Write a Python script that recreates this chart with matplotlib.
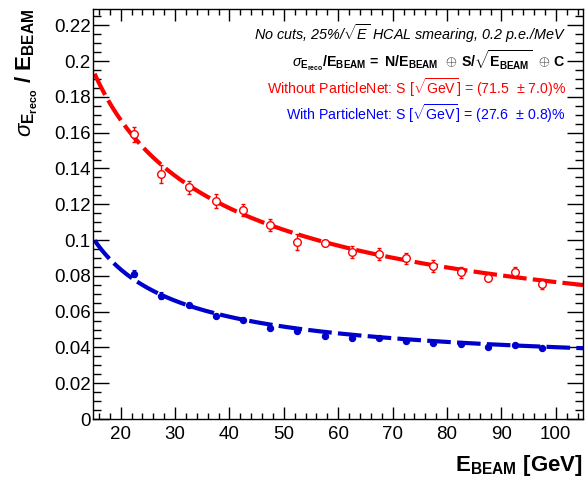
import numpy as np
import matplotlib
matplotlib.use("Agg")
import matplotlib.pyplot as plt

plt.rcParams['font.family'] = ['Liberation Sans', 'DejaVu Sans']
plt.rcParams['mathtext.fontset'] = 'custom'
plt.rcParams['mathtext.rm'] = 'Liberation Sans'
plt.rcParams['mathtext.it'] = 'Liberation Sans:italic'
plt.rcParams['mathtext.bf'] = 'Liberation Sans:bold'
plt.rcParams['mathtext.sf'] = 'Liberation Sans'
plt.rcParams['lines.scale_dashes'] = False

# Beam energies (bin centres, GeV)
energies = [22.5, 27.5, 32.5, 37.5, 42.5, 47.5, 52.5, 57.5,
            62.5, 67.5, 72.5, 77.5, 82.5, 87.5, 92.5, 97.5]

# Relative resolution without ParticleNet
res_without = [0.1590, 0.1370, 0.1296, 0.1218, 0.1170, 0.1084, 0.0989, 0.0984,
               0.0935, 0.0922, 0.0898, 0.0855, 0.0820, 0.0790, 0.0823, 0.0756]
err_without = [0.0042, 0.0050, 0.0036, 0.0039, 0.0034, 0.0035, 0.0045, 0.0015,
               0.0034, 0.0033, 0.0030, 0.0035, 0.0030, 0.0010, 0.0025, 0.0028]

# Relative resolution with ParticleNet
res_with = [0.0812, 0.0690, 0.0637, 0.0576, 0.0551, 0.0507, 0.0490, 0.0464,
            0.0452, 0.0454, 0.0436, 0.0425, 0.0418, 0.0402, 0.0415, 0.0398]
err_with = [0.0019, 0.0019, 0.0009, 0.0008, 0.0008, 0.0008, 0.0008, 0.0008,
            0.0008, 0.0007, 0.0007, 0.0007, 0.0007, 0.0007, 0.0008, 0.0007]

# Fit parameters: sigma/E = N/E (+) S/sqrt(E) (+) C
fit_without = {"N": 0.82, "S": 0.715, "S_err": 0.070, "C": 0.026}
fit_with = {"N": 0.985, "S": 0.276, "S_err": 0.008, "C": 0.0274}

x_ticks = [20, 30, 40, 50, 60, 70, 80, 90, 100]
y_ticks = [0, 0.02, 0.04, 0.06, 0.08, 0.1, 0.12, 0.14, 0.16, 0.18, 0.2, 0.22]
y_tick_labels = ["0", "0.02", "0.04", "0.06", "0.08", "0.1", "0.12", "0.14",
                 "0.16", "0.18", "0.2", "0.22"]

RED = "#ff0000"
BLUE_LINE = "#0000cc"
BLUE_TEXT = "#0000ff"


def resolution(e, p):
    return np.sqrt((p["N"] / e) ** 2 + p["S"] ** 2 / e + p["C"] ** 2)


W, H = 585, 480
fig = plt.figure(figsize=(W / 100, H / 100), dpi=100)
ax = fig.add_axes([93.5 / W, 1 - 419 / H, (583 - 93.5) / W, (419 - 9) / H])
ax.set_xlim(15, 105)
ax.set_ylim(0, 0.2291)

e_curve = np.linspace(15.2, 105, 400)
dash = (0, (17, 4.5))
ax.plot(e_curve, resolution(e_curve, fit_without), color=RED, lw=3.0,
        linestyle=dash, zorder=2)
ax.plot(e_curve, resolution(e_curve, fit_with), color=BLUE_LINE, lw=3.0,
        linestyle=dash, zorder=2)

ax.errorbar(energies, res_without, yerr=err_without, fmt='o', mfc='white',
            mec=RED, ecolor=RED, ms=5.5, mew=1.0, elinewidth=1.0,
            capsize=1.6, capthick=1.0, zorder=3)
ax.errorbar(energies, res_with, yerr=err_with, fmt='o', mfc=BLUE_LINE,
            mec=BLUE_LINE, ecolor=BLUE_LINE, ms=4.5, mew=0.8, elinewidth=1.0,
            capsize=1.6, capthick=1.0, zorder=3)

ax.set_xticks(x_ticks)
ax.set_xticks(np.arange(16, 105, 2), minor=True)
ax.set_yticks(y_ticks)
ax.set_yticklabels(y_tick_labels)
ax.set_yticks(np.arange(0, 0.2291, 0.005), minor=True)
ax.tick_params(axis='both', which='both', direction='in', top=True,
               right=True, labelsize=13.5, width=1.0, color='black')
ax.tick_params(axis='x', which='major', length=8.5, pad=5)
ax.tick_params(axis='x', which='minor', length=4.3)
ax.tick_params(axis='y', which='major', length=11.5, pad=2)
ax.tick_params(axis='y', which='minor', length=5.8)
for s in ax.spines.values():
    s.set_linewidth(1.0)


def px(x, y):
    return x / W, 1 - y / H


fig.text(*px(583, 466), r"$\mathbf{E_{BEAM}}$ $\mathbf{[GeV]}$",
         ha='right', va='center', fontsize=16)
fig.text(*px(27, 9), r"$\sigma_{\mathbf{E_{reco}}}\ \mathbf{/\ E_{BEAM}}$",
         ha='center', va='top', rotation=90, fontsize=16)

fig.text(*px(566, 34),
         r"No cuts, 25%/$\sqrt{E}$ HCAL smearing, 0.2 p.e./MeV",
         ha='right', va='center', fontsize=10.4, style='italic')
fig.text(*px(566, 61),
         r"$\sigma_{\mathbf{E_{reco}}}\mathbf{/E_{BEAM}\,=}\ \mathbf{N/E_{BEAM}}"
         r"\ \,\oplus\,\mathbf{S/}\sqrt{\mathbf{E_{BEAM}}}\ \,\oplus\,\mathbf{C}$",
         ha='right', va='center', fontsize=10.2)
fig.text(*px(566, 88),
         r"Without ParticleNet: S [$\sqrt{\mathrm{GeV}}$] = (%.1f  $\pm$ %.1f)%%"
         % (fit_without["S"] * 100, fit_without["S_err"] * 100),
         ha='right', va='center', fontsize=10.2, color=RED)
fig.text(*px(566, 114),
         r"With ParticleNet: S [$\sqrt{\mathrm{GeV}}$] = (%.1f  $\pm$ %.1f)%%"
         % (fit_with["S"] * 100, fit_with["S_err"] * 100),
         ha='right', va='center', fontsize=10.2, color=BLUE_TEXT)

fig.savefig("out.png", dpi=100)
